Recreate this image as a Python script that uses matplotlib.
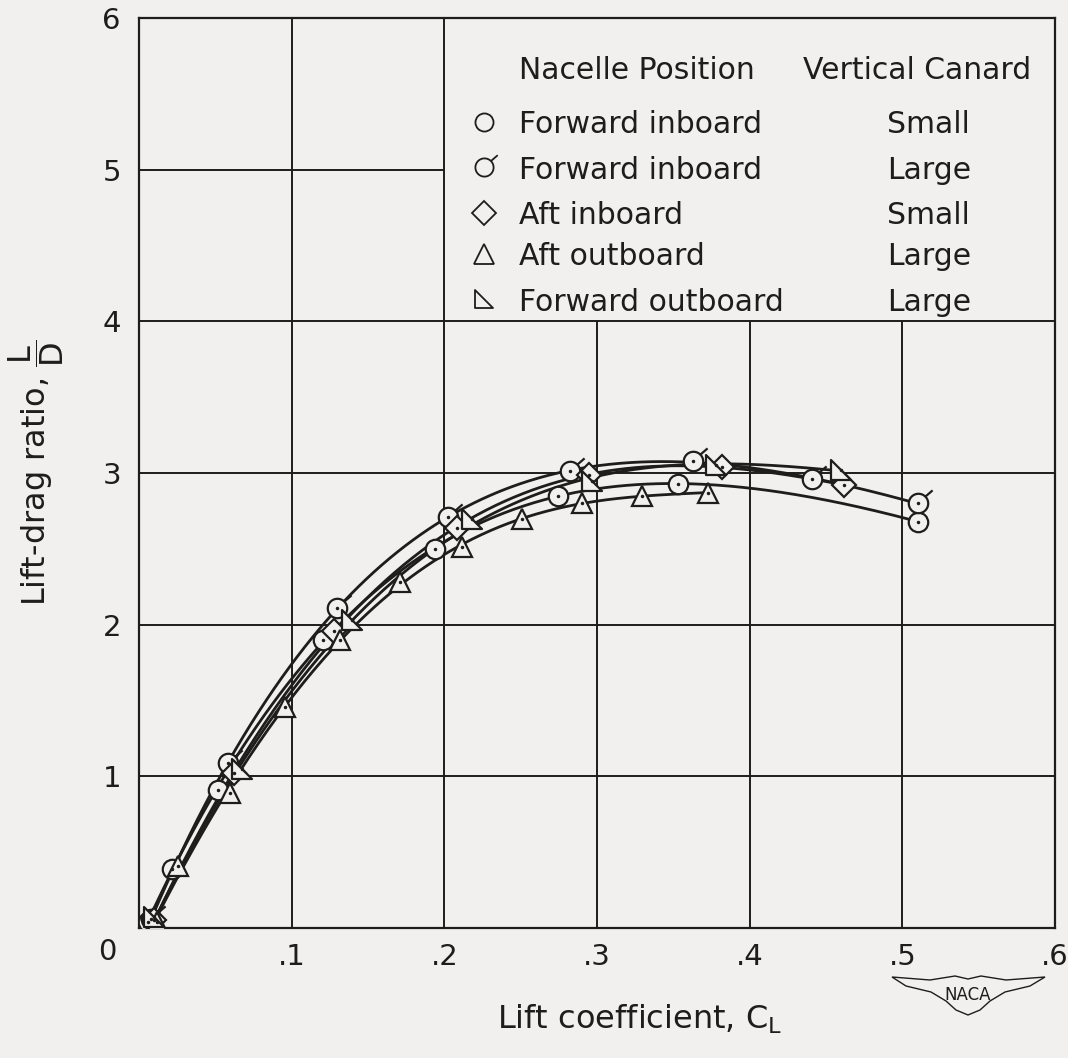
import numpy as np
import matplotlib
matplotlib.use('Agg')
import matplotlib.pyplot as plt
from matplotlib.path import Path
from matplotlib.patches import Polygon

# ---------------- data ----------------
fi_small_cl = [0.006, 0.0214, 0.0517, 0.1205, 0.1938, 0.2744, 0.353, 0.510]
fi_small_ld = [0.04, 0.39, 0.91, 1.90, 2.50, 2.85, 2.93, 2.68]

fi_large_cl = [0.008, 0.0583, 0.130, 0.2024, 0.282, 0.363, 0.441, 0.510]
fi_large_ld = [0.06, 1.09, 2.11, 2.71, 3.01, 3.08, 2.96, 2.80]

ai_small_cl = [0.010, 0.062, 0.128, 0.208, 0.295, 0.382, 0.462]
ai_small_ld = [0.05, 1.02, 1.96, 2.64, 2.99, 3.04, 2.92]

ao_large_cl = [0.012, 0.0255, 0.0596, 0.0956, 0.1316, 0.171, 0.2115, 0.251, 0.290, 0.3294, 0.3726]
ao_large_ld = [0.04, 0.41, 0.89, 1.46, 1.90, 2.28, 2.51, 2.70, 2.80, 2.85, 2.87]

fo_large_cl = [0.010, 0.0675, 0.1395, 0.218, 0.297, 0.378, 0.460]
fo_large_ld = [0.07, 1.05, 2.03, 2.70, 2.95, 3.05, 3.02]

x_ticks = [0.1, 0.2, 0.3, 0.4, 0.5, 0.6]
x_ticklabels = ['.1', '.2', '.3', '.4', '.5', '.6']
y_ticks = [1, 2, 3, 4, 5, 6]
y_ticklabels = ['1', '2', '3', '4', '5', '6']

legend_positions = ['Forward inboard', 'Forward inboard', 'Aft inboard', 'Aft outboard', 'Forward outboard']
legend_canards = ['Small', 'Large', 'Small', 'Large', 'Large']

# ---------------- style ----------------
BG = '#f2f0ee'
INK = '#1f1d1c'
plt.rcParams['font.family'] = ['DejaVu Sans']
plt.rcParams['mathtext.fontset'] = 'dejavusans'

fig = plt.figure(figsize=(10.68, 10.58), dpi=100, facecolor=BG)
ax = fig.add_axes([139/1068, 1-928/1058, (1055-139)/1068, (928-18)/1058])
ax.set_facecolor(BG)
ax.set_xlim(0, 0.6)
ax.set_ylim(0, 6)

for s in ax.spines.values():
    s.set_color(INK)
    s.set_linewidth(1.6)

# grid (blank legend region in the upper right)
glw = 1.4
for xv in [0.1, 0.2]:
    ax.axvline(xv, color=INK, lw=glw, zorder=1)
for xv in [0.3, 0.4, 0.5]:
    ax.axvline(xv, ymin=0, ymax=4/6, color=INK, lw=glw, zorder=1)
for yv in [1, 2, 3, 4]:
    ax.axhline(yv, color=INK, lw=glw, zorder=1)
ax.axhline(5, xmin=0, xmax=0.2/0.6, color=INK, lw=glw, zorder=1)

ax.set_xticks(x_ticks)
ax.set_xticklabels(x_ticklabels)
ax.set_yticks(y_ticks)
ax.set_yticklabels(y_ticklabels)
ax.tick_params(length=0, labelsize=21, colors=INK)
ax.tick_params(axis='x', pad=11)
ax.tick_params(axis='y', pad=13)
ax.text(-0.021, -0.16, '0', fontsize=21, color=INK, ha='center', va='center')

ax.set_xlabel(r'Lift coefficient, C$_\mathregular{L}$', fontsize=23, color=INK)
ax.xaxis.set_label_coords(0.547, -0.082)
ax.set_ylabel(r'Lift-drag ratio, $\dfrac{\mathrm{L}}{\mathrm{D}}$', fontsize=23, color=INK)
ax.yaxis.set_label_coords(-0.08, 0.5)

# ---------------- markers ----------------
theta = np.linspace(0, 2*np.pi, 61)
circ = np.column_stack([np.cos(theta), np.sin(theta)])
flag_verts = np.vstack([circ, [[0.71, 0.71], [1.45, 1.35]]])
flag_codes = [Path.MOVETO] + [Path.LINETO]*(len(circ)-2) + [Path.CLOSEPOLY] + [Path.MOVETO, Path.LINETO]
flag_marker = Path(flag_verts, flag_codes)
rtri_marker = Path([(-1, 1), (-1, -1), (1, -1), (-1, 1)],
                   [Path.MOVETO, Path.LINETO, Path.LINETO, Path.CLOSEPOLY])

series = [
    (fi_small_cl, fi_small_ld, 'o', 14, 4),
    (fi_large_cl, fi_large_ld, flag_marker, 20.3, 4),
    (ai_small_cl, ai_small_ld, 'D', 12, 3),
    (ao_large_cl, ao_large_ld, '^', 15, 4),
    (fo_large_cl, fo_large_ld, rtri_marker, 14, 3),
]

for cl, ld, mk, ms, deg in series:
    cl = np.asarray(cl); ld = np.asarray(ld)
    coef = np.polyfit(cl, ld, deg)
    xs = np.linspace(cl.min(), cl.max(), 300)
    ax.plot(xs, np.polyval(coef, xs), color=INK, lw=2.0, zorder=3, solid_capstyle='round')
    ax.plot(cl, ld, linestyle='none', marker=mk, markersize=ms, markerfacecolor=BG,
            markeredgecolor=INK, markeredgewidth=1.6, zorder=4)
    ax.plot(cl, ld, linestyle='none', marker='o', markersize=1.5, color=INK, zorder=5)

# ---------------- legend ----------------
lx_mark, lx_text, lx_can = 0.226, 0.249, 0.490
LFS = 21.5
ax.text(lx_text, 5.60, 'Nacelle Position', fontsize=LFS, color=INK, va='baseline')
ax.text(0.435, 5.60, 'Vertical Canard', fontsize=LFS, color=INK, va='baseline')
leg_rows = [5.24, 4.94, 4.64, 4.37, 4.07]
leg_marks = [('o', 13), (flag_marker, 19), ('D', 12), ('^', 15), (rtri_marker, 13)]
for yrow, pos, can, (mk, ms) in zip(leg_rows, legend_positions, legend_canards, leg_marks):
    ax.plot([lx_mark], [yrow + 0.075], linestyle='none', marker=mk, markersize=ms,
            markerfacecolor=BG, markeredgecolor=INK, markeredgewidth=1.3, zorder=4)
    ax.text(lx_text, yrow, pos, fontsize=LFS, color=INK, va='baseline')
    ax.text(lx_can, yrow, can, fontsize=LFS, color=INK, va='baseline')

# ---------------- NACA emblem ----------------
wing_px = [(892, 977), (930, 980), (955, 976), (968, 979), (981, 976), (1006, 980), (1045, 977),
           (1030, 986), (1005, 992), (990, 1001), (980, 1010), (968, 1015), (956, 1010),
           (946, 1001), (931, 992), (906, 986)]
wing = [(px/1068, 1 - py/1058) for px, py in wing_px]
fig.patches.append(Polygon(wing, closed=True, transform=fig.transFigure, facecolor='none',
                           edgecolor=INK, lw=1.0))
fig.text(968/1068, 1 - 995/1058, 'NACA', fontsize=12, color=INK, ha='center', va='center')

fig.savefig('out.png', dpi=100, facecolor=BG)
